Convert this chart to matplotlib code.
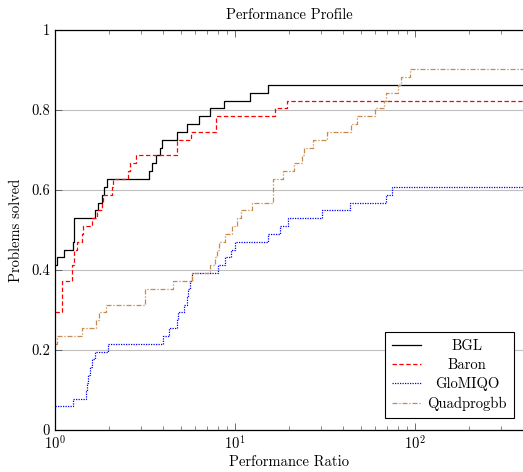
# Performance profile: share of problems solved vs performance ratio
import numpy as np
import matplotlib
matplotlib.use('Agg')
import matplotlib.pyplot as plt

plt.rcParams['font.family'] = ['cmr10', 'DejaVu Serif']
plt.rcParams['mathtext.fontset'] = 'cm'
plt.rcParams['axes.formatter.use_mathtext'] = True

# ── DATA ───────────────────────────────────────────────
n_problems = 51
x_max = 10 ** 2.6

bgl_ratio = [1.0, 1.03, 1.126, 1.254, 1.28, 1.668, 1.74, 1.831, 1.879, 1.937,
             3.33, 3.44, 3.64, 3.83, 3.95, 4.74, 5.43, 6.34, 7.26, 8.69, 12.1, 15.3]
bgl_solved = [21, 22, 23, 24, 27, 28, 29, 30, 31, 32,
              33, 34, 35, 36, 37, 38, 39, 40, 41, 42, 43, 44]

baron_ratio = [1.0, 1.089, 1.235, 1.275, 1.33, 1.406, 1.436, 1.60, 1.705, 1.817,
               1.855, 2.066, 2.108, 2.556, 2.61, 2.82, 4.74, 5.67, 7.89, 16.7, 19.5]
baron_solved = [15, 19, 21, 23, 24, 25, 26, 27, 28, 29,
                30, 31, 32, 33, 34, 35, 37, 38, 40, 41, 42]

glomiqo_ratio = [1.0, 1.254, 1.481, 1.50, 1.525, 1.564, 1.60, 1.668, 1.977, 4.00,
                 4.30, 4.74, 4.84, 5.21, 5.39, 5.50, 5.62, 5.74, 8.08, 8.80,
                 9.55, 10.0, 15.3, 17.8, 19.8, 30.3, 43.5, 69.0, 74.2]
glomiqo_solved = [3, 4, 5, 6, 7, 8, 9, 10, 11, 12,
                  13, 14, 15, 16, 17, 18, 19, 20, 21, 22,
                  23, 24, 25, 26, 27, 28, 29, 30, 31]

quad_ratio = [1.0, 1.022, 1.406, 1.69, 1.756, 1.92, 3.16, 4.54, 5.74, 7.26,
              7.74, 7.91, 8.18, 8.80, 9.59, 10.2, 10.8, 12.4, 16.2, 18.5,
              21.2, 23.5, 24.2, 27.0, 32.4, 44.1, 47.8, 60.0, 67.3, 69.0,
              80.2, 83.6, 93.8]
quad_solved = [11, 12, 13, 14, 15, 16, 18, 19, 20, 21,
               22, 23, 24, 25, 26, 27, 28, 29, 32, 33,
               34, 35, 36, 37, 38, 39, 40, 41, 42, 43,
               44, 45, 46]

solvers = ['BGL', 'Baron', 'GloMIQO', 'Quadprogbb']
ratios = [bgl_ratio, baron_ratio, glomiqo_ratio, quad_ratio]
solved = [bgl_solved, baron_solved, glomiqo_solved, quad_solved]
styles = [dict(color='black', linestyle='-'),
          dict(color='red', linestyle=(0, (3.5, 2))),
          dict(color='blue', linestyle=(0, (1, 1))),
          dict(color='#C98A4B', linestyle=(0, (4, 1.5, 1, 1.5)))]

# ── PLOT ───────────────────────────────────────────────
fig = plt.figure(figsize=(5.23, 4.72), dpi=100)
ax = fig.add_axes([55 / 523, 1 - 430 / 472, 1 - 55 / 523, 400 / 472])

for name, r, s, st in zip(solvers, ratios, solved, styles):
    x = np.append(r, x_max)
    y = np.append(s, s[-1]) / n_problems
    ax.step(x, y, where='post', linewidth=0.9, label=name, **st)

ax.set_xscale('log')
ax.set_xlim(1, x_max)
ax.set_ylim(0, 1)
ax.set_yticks([0, 0.2, 0.4, 0.6, 0.8, 1])
ax.set_yticklabels(['0', '0.2', '0.4', '0.6', '0.8', '1'])
ax.yaxis.grid(True, color='#BFBFBF', linewidth=0.8)
ax.set_axisbelow(True)

ax.tick_params(which='both', direction='in', top=True, right=False,
               labelsize=10.5, color='#555555')
ax.tick_params(which='major', length=5, width=0.6)
ax.tick_params(which='minor', length=3, width=0.5)
for side in ['left', 'bottom', 'top']:
    ax.spines[side].set_linewidth(0.9)
ax.spines['right'].set_visible(False)

ax.set_title('Performance Profile', fontsize=10.5, pad=8)
ax.set_xlabel('Performance Ratio', fontsize=10.5, labelpad=2)
ax.set_ylabel('Problems solved', fontsize=10.5, labelpad=6)

leg = ax.legend(loc='lower right', bbox_to_anchor=(0.981, 0.03), fontsize=10.5,
                fancybox=False, edgecolor='black', framealpha=1,
                handlelength=2.0, handletextpad=0.4, borderpad=0.5,
                borderaxespad=0, labelspacing=0.35)
leg.get_frame().set_linewidth(0.8)

# centre the legend labels like the original
fig.canvas.draw()
texts = leg.get_texts()
widths = [t.get_window_extent().width for t in texts]
for t, w in zip(texts, widths):
    t.set_x((max(widths) - w) / 2)

fig.savefig('out.png', dpi=100)
